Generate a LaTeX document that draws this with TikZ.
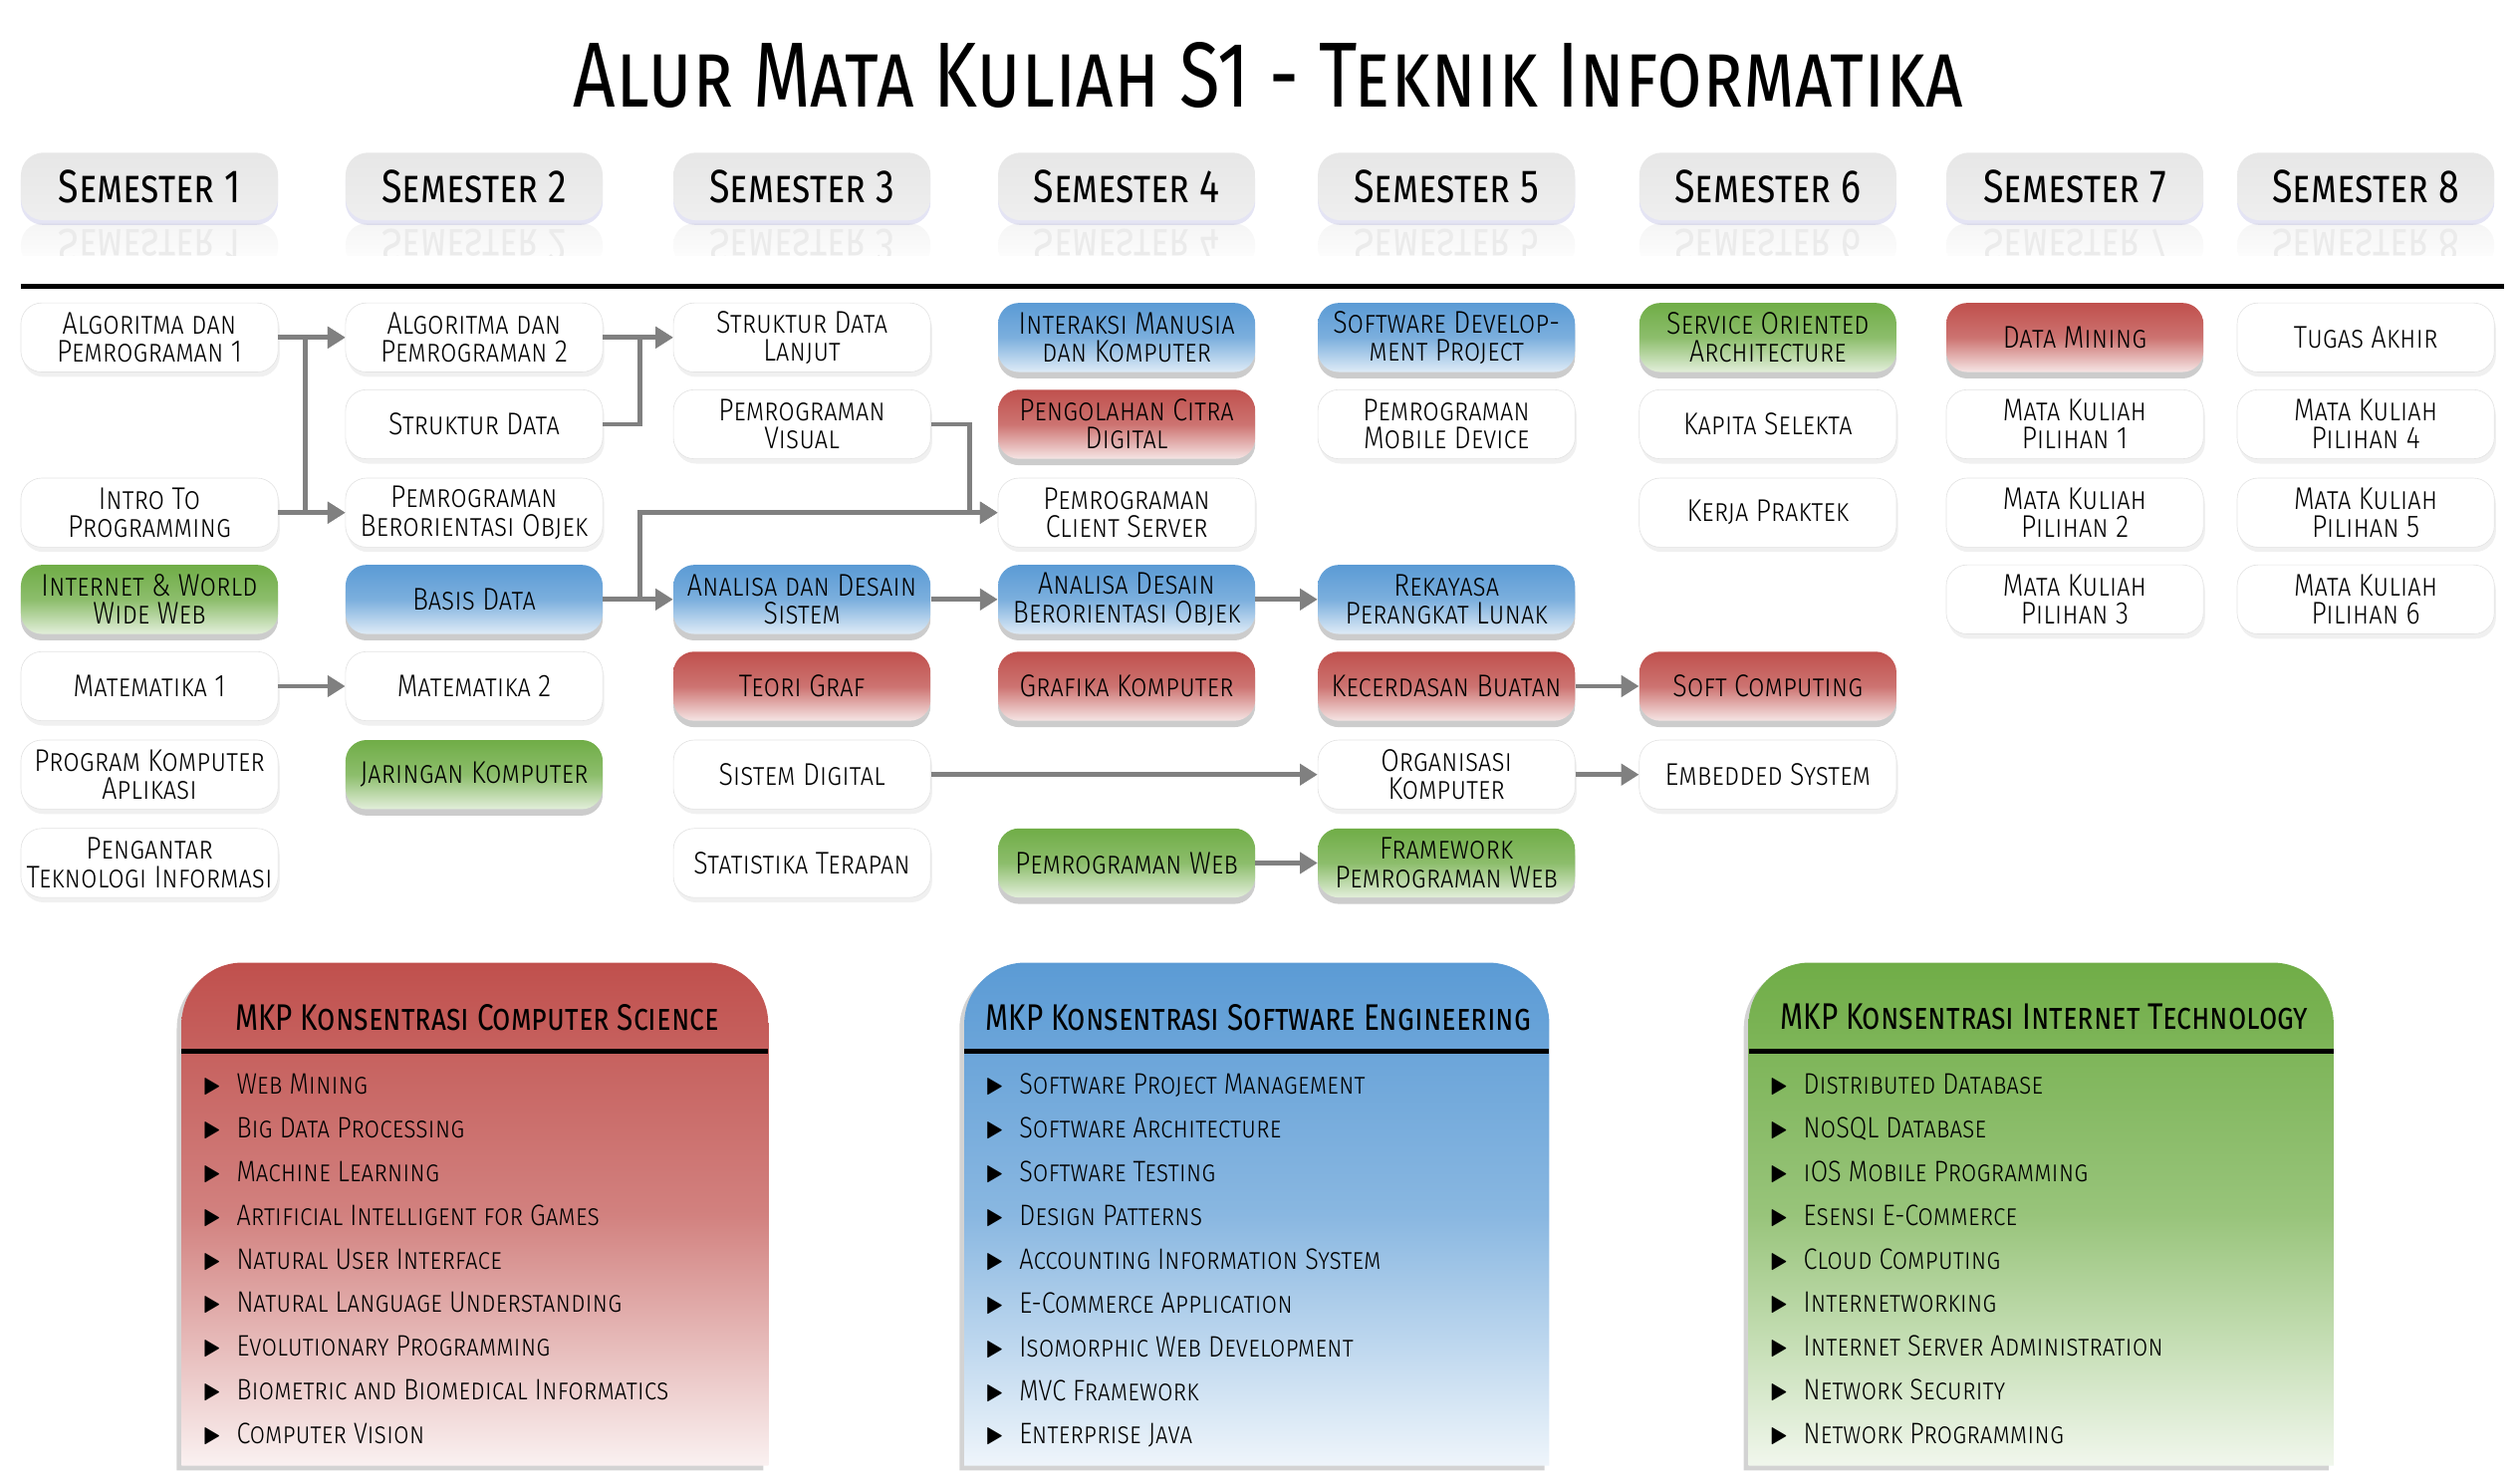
\documentclass[tikz,border=0pt]{standalone}
\usepackage{fontspec}
\usepackage{graphicx}
\usepackage{amssymb}
\setmainfont{Fira Sans Light}[FakeStretch=0.85]
\newfontfamily\headfont{Fira Sans}[FakeStretch=0.8]
\usetikzlibrary{arrows.meta,shadows}

\definecolor{csred}{RGB}{192,80,77}
\definecolor{seblue}{RGB}{91,155,213}
\definecolor{itgreen}{RGB}{112,173,71}
\definecolor{flowgray}{RGB}{128,128,128}

\newcommand{\tri}{\makebox[21pt][l]{\scalebox{0.8}[1]{$\blacktriangleright$}}}

\tikzset{
  course/.style={rounded corners=13pt, minimum width=160pt, minimum height=43pt,
    inner sep=1pt, align=center, font=\scshape\fontsize{19.5}{17.5}\selectfont},
  whitebox/.style={course, draw=gray!22, fill=white,
    drop shadow={opacity=0.12, shadow xshift=1pt, shadow yshift=-3pt}},
  bluebox/.style={course, top color=seblue, bottom color=seblue!20!white, middle color=seblue!80!white,
    drop shadow={opacity=0.4, shadow xshift=0pt, shadow yshift=-4pt}},
  redbox/.style={course, top color=csred, bottom color=csred!15!white, middle color=csred!80!white,
    drop shadow={opacity=0.4, shadow xshift=0pt, shadow yshift=-4pt}},
  greenbox/.style={course, top color=itgreen, bottom color=itgreen!20!white, middle color=itgreen!80!white,
    drop shadow={opacity=0.4, shadow xshift=0pt, shadow yshift=-4pt}},
  semhead/.style={rounded corners=14pt, minimum width=160pt, minimum height=42pt, inner sep=0pt,
    top color=gray!19, bottom color=gray!13, font=\headfont\scshape\fontsize{29}{29}\selectfont,
    drop shadow={opacity=0.15, color=blue!40!gray, shadow xshift=0pt, shadow yshift=-3pt}},
  semref/.style={rounded corners=13pt, minimum width=160pt, minimum height=28pt, inner sep=0pt,
    top color=gray!8, bottom color=white, text=gray!16,
    font=\headfont\scshape\fontsize{29}{29}\selectfont},
  flow/.style={draw=flowgray, line width=3pt, -{Triangle[length=11pt, width=13pt]}},
  pantitle/.style={font=\headfont\scshape\fontsize{23}{23}\selectfont},
  panlist/.style={anchor=north west, inner sep=0pt, align=left,
    font=\scshape\fontsize{18.4}{27.2}\selectfont},
  panel/.style={drop shadow={opacity=0.35, shadow xshift=-3pt, shadow yshift=-3pt}},
}

\begin{document}
\begin{tikzpicture}[x=1pt, y=-1pt]
  \useasboundingbox (0,0) rectangle (1568,923);
  \node[font=\headfont\scshape\fontsize{57.5}{57.5}\selectfont] (ttl) at (789,47) {Alur Mata Kuliah S1 - Teknik Informatika};

  % reflections under the semester headers
  \node[semref] (s1r) at (93,153) {\scalebox{1}[-1]{Semester 1}};
  \node[semref] (s2r) at (295,153) {\scalebox{1}[-1]{Semester 2}};
  \node[semref] (s3r) at (499,153) {\scalebox{1}[-1]{Semester 3}};
  \node[semref] (s4r) at (701,153) {\scalebox{1}[-1]{Semester 4}};
  \node[semref] (s5r) at (900,153) {\scalebox{1}[-1]{Semester 5}};
  \node[semref] (s6r) at (1100,153) {\scalebox{1}[-1]{Semester 6}};
  \node[semref] (s7r) at (1291,153) {\scalebox{1}[-1]{Semester 7}};
  \node[semref] (s8r) at (1472,153) {\scalebox{1}[-1]{Semester 8}};
  \fill[white] (0,159) rectangle (1568,176);

  % semester headers
  \node[semhead] (s1) at (93,116) {Semester 1};
  \node[semhead] (s2) at (295,116) {Semester 2};
  \node[semhead] (s3) at (499,116) {Semester 3};
  \node[semhead] (s4) at (701,116) {Semester 4};
  \node[semhead] (s5) at (900,116) {Semester 5};
  \node[semhead] (s6) at (1100,116) {Semester 6};
  \node[semhead] (s7) at (1291,116) {Semester 7};
  \node[semhead] (s8) at (1472,116) {Semester 8};
  \draw[line width=3pt] (13,178) -- (1558,178);

  % semester 1
  \node[whitebox] (alg1) at (93,210) {Algoritma dan\\Pemrograman 1};
  \node[whitebox] (intro) at (93,319) {Intro To\\Programming};
  \node[greenbox] (www) at (93,373) {Internet \& World\\Wide Web};
  \node[whitebox] (mat1) at (93,427) {Matematika 1};
  \node[whitebox] (pka) at (93,482) {Program Komputer\\Aplikasi};
  \node[whitebox] (pti) at (93,537) {Pengantar\\Teknologi Informasi};

  % semester 2
  \node[whitebox] (alg2) at (295,210) {Algoritma dan\\Pemrograman 2};
  \node[whitebox] (sd) at (295,264) {Struktur Data};
  \node[whitebox] (pbo) at (295,319) {Pemrograman\\Berorientasi Objek};
  \node[bluebox] (bd) at (295,373) {Basis Data};
  \node[whitebox] (mat2) at (295,427) {Matematika 2};
  \node[greenbox] (jk) at (295,482) {Jaringan Komputer};

  % semester 3
  \node[whitebox] (sdl) at (499,210) {Struktur Data\\Lanjut};
  \node[whitebox] (pv) at (499,264) {Pemrograman\\Visual};
  \node[bluebox] (ads) at (499,373) {Analisa dan Desain\\Sistem};
  \node[redbox] (tg) at (499,427) {Teori Graf};
  \node[whitebox] (sdig) at (499,482) {Sistem Digital};
  \node[whitebox] (st) at (499,537) {Statistika Terapan};

  % semester 4
  \node[bluebox] (imk) at (701,210) {Interaksi Manusia\\dan Komputer};
  \node[redbox] (pcd) at (701,264) {Pengolahan Citra\\Digital};
  \node[whitebox] (pcs) at (701,319) {Pemrograman\\Client Server};
  \node[bluebox] (adbo) at (701,373) {Analisa Desain\\Berorientasi Objek};
  \node[redbox] (gk) at (701,427) {Grafika Komputer};
  \node[greenbox] (pweb) at (701,537) {Pemrograman Web};

  % semester 5
  \node[bluebox] (sdp) at (900,210) {Software Develop-\\ment Project};
  \node[whitebox] (pmd) at (900,264) {Pemrograman\\Mobile Device};
  \node[bluebox] (rpl) at (900,373) {Rekayasa\\Perangkat Lunak};
  \node[redbox] (kb) at (900,427) {Kecerdasan Buatan};
  \node[whitebox] (ok) at (900,482) {Organisasi\\Komputer};
  \node[greenbox] (fpw) at (900,537) {Framework\\Pemrograman Web};

  % semester 6
  \node[greenbox] (soa) at (1100,210) {Service Oriented\\Architecture};
  \node[whitebox] (ks) at (1100,264) {Kapita Selekta};
  \node[whitebox] (kp) at (1100,319) {Kerja Praktek};
  \node[redbox] (sc) at (1100,427) {Soft Computing};
  \node[whitebox] (es) at (1100,482) {Embedded System};

  % semester 7 and 8
  \node[redbox] (dm) at (1291,210) {Data Mining};
  \node[whitebox] (mkp1) at (1291,264) {Mata Kuliah\\Pilihan 1};
  \node[whitebox] (mkp2) at (1291,319) {Mata Kuliah\\Pilihan 2};
  \node[whitebox] (mkp3) at (1291,373) {Mata Kuliah\\Pilihan 3};
  \node[whitebox] (ta) at (1472,210) {Tugas Akhir};
  \node[whitebox] (mkp4) at (1472,264) {Mata Kuliah\\Pilihan 4};
  \node[whitebox] (mkp5) at (1472,319) {Mata Kuliah\\Pilihan 5};
  \node[whitebox] (mkp6) at (1472,373) {Mata Kuliah\\Pilihan 6};

  % prerequisites
  \draw[flow] (alg1.east) -- (alg2.west);
  \draw[flow] (alg1.east) -- ++(17,0) |- (pbo.west);
  \draw[flow] (intro.east) -- (pbo.west);
  \draw[flow] (intro.east) -- ++(17,0) |- (alg2.west);
  \draw[flow] (alg2.east) -- (sdl.west);
  \draw[flow] (sd.east) -- ++(23,0) |- (sdl.west);
  \draw[flow] (pv.east) -- ++(24,0) |- (pcs.west);
  \draw[flow] (bd.east) -- ++(23,0) |- (pcs.west);
  \draw[flow] (bd.east) -- (ads.west);
  \draw[flow] (ads.east) -- (adbo.west);
  \draw[flow] (adbo.east) -- (rpl.west);
  \draw[flow] (mat1.east) -- (mat2.west);
  \draw[flow] (kb.east) -- (sc.west);
  \draw[flow] (sdig.east) -- (ok.west);
  \draw[flow] (ok.east) -- (es.west);
  \draw[flow] (pweb.east) -- (fpw.west);

  % concentration panels
  \path[panel, top color=csred, bottom color=csred!8!white, middle color=csred!72!white]
    (113,912) -- (113,637) .. controls (113,616) and (130,599) .. (151,599) -- (440,599)
    .. controls (461,599) and (478,616) .. (478,637) -- (478,912) -- cycle;
  \draw[line width=3pt] (113,654) -- (478,654);
  \node[pantitle] (cst) at (297,633) {MKP Konsentrasi Computer Science};
  \node[panlist] (csl) at (126,668) {\tri Web Mining\\ \tri Big Data Processing\\ \tri Machine Learning\\
    \tri Artificial Intelligent for Games\\ \tri Natural User Interface\\ \tri Natural Language Understanding\\
    \tri Evolutionary Programming\\ \tri Biometric and Biomedical Informatics\\ \tri Computer Vision};

  \path[panel, top color=seblue, bottom color=seblue!10!white, middle color=seblue!72!white]
    (600,912) -- (600,637) .. controls (600,616) and (617,599) .. (638,599) -- (926,599)
    .. controls (947,599) and (964,616) .. (964,637) -- (964,912) -- cycle;
  \draw[line width=3pt] (600,654) -- (964,654);
  \node[pantitle] (set) at (783,633) {MKP Konsentrasi Software Engineering};
  \node[panlist] (sel) at (613,668) {\tri Software Project Management\\ \tri Software Architecture\\ \tri Software Testing\\
    \tri Design Patterns\\ \tri Accounting Information System\\ \tri E-Commerce Application\\
    \tri Isomorphic Web Development\\ \tri MVC Framework\\ \tri Enterprise Java};

  \path[panel, top color=itgreen, bottom color=itgreen!10!white, middle color=itgreen!72!white]
    (1088,912) -- (1088,637) .. controls (1088,616) and (1105,599) .. (1126,599) -- (1414,599)
    .. controls (1435,599) and (1452,616) .. (1452,637) -- (1452,912) -- cycle;
  \draw[line width=3pt] (1088,654) -- (1452,654);
  \node[pantitle] (itt) at (1272,633) {MKP Konsentrasi Internet Technology};
  \node[panlist] (itl) at (1101,668) {\tri Distributed Database\\ \tri NoSQL Database\\ \tri iOS Mobile Programming\\
    \tri Esensi E-Commerce\\ \tri Cloud Computing\\ \tri Internetworking\\
    \tri Internet Server Administration\\ \tri Network Security\\ \tri Network Programming};
\end{tikzpicture}
\end{document}
